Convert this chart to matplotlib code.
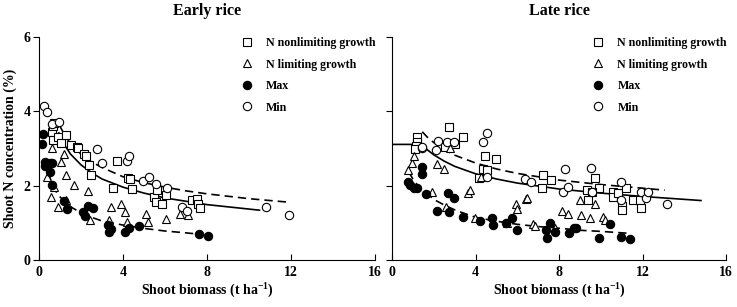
import numpy as np
import matplotlib.pyplot as plt

plt.rcParams['font.family'] = ['Liberation Serif', 'DejaVu Serif']
plt.rcParams['font.weight'] = 'bold'
plt.rcParams['mathtext.fontset'] = 'custom'
plt.rcParams['mathtext.rm'] = 'Liberation Serif:bold'
plt.rcParams['mathtext.bf'] = 'Liberation Serif:bold'

# ---- Early rice ----
e_sq_x = [0.60, 0.65, 0.71, 0.68, 0.92, 1.05, 1.27, 1.51, 1.79, 1.87, 2.16, 2.24, 2.38, 2.46,
          3.54, 3.73, 4.25, 4.33, 4.41, 5.48, 5.56, 5.60, 5.87, 6.03, 7.27, 7.51, 7.59, 7.67]
e_sq_y = [3.45, 3.60, 3.69, 3.23, 3.32, 3.15, 3.36, 3.09, 3.05, 3.02, 2.84, 2.80, 2.55, 2.28,
          1.94, 2.66, 2.20, 2.18, 1.91, 1.70, 1.57, 1.88, 1.51, 1.75, 1.61, 1.65, 1.51, 1.39]
e_tri_x = [0.37, 0.56, 0.60, 0.73, 0.92, 1.06, 1.19, 1.27, 1.29, 1.67, 2.32, 2.43, 3.33, 3.41,
           3.89, 4.10, 4.17, 5.08, 5.17, 6.05, 6.71, 7.08]
e_tri_y = [2.22, 1.70, 3.00, 1.97, 1.43, 2.63, 2.85, 2.28, 1.61, 2.02, 1.85, 1.08, 1.08, 1.42,
           1.51, 1.28, 1.03, 1.25, 1.03, 1.09, 1.25, 1.21]
e_max_x = [0.17, 0.16, 0.29, 0.29, 0.52, 0.63, 0.52, 0.60, 1.20, 1.32, 2.11, 2.21, 2.35, 2.59,
           3.27, 3.33, 3.41, 4.10, 4.29, 4.78, 7.63, 8.06]
e_max_y = [3.39, 3.12, 2.63, 2.53, 2.60, 2.60, 2.37, 2.03, 1.60, 1.37, 1.30, 1.18, 1.46, 1.40,
           0.93, 0.74, 0.84, 0.74, 0.87, 0.92, 0.69, 0.65]
e_min_x = [0.25, 0.40, 0.62, 0.95, 2.78, 3.02, 4.17, 4.30, 4.95, 5.25, 5.55, 6.08, 6.79, 7.06,
           10.80, 11.92]
e_min_y = [4.13, 3.99, 3.65, 3.72, 2.98, 2.60, 2.67, 2.81, 2.12, 2.22, 2.05, 1.95, 1.42, 1.33,
           1.42, 1.21]
# curves
e_crit_x = [0.95, 1.2, 1.5, 2.0, 2.5, 3.0, 4.0, 5.0, 6.0, 7.0, 8.0, 9.0, 10.5]
e_crit_y = [3.42, 3.11, 2.85, 2.56, 2.35, 2.18, 1.96, 1.80, 1.67, 1.58, 1.49, 1.43, 1.34]
e_up_x = [1.0, 1.25, 1.5, 2.0, 2.5, 3.0, 4.0, 5.0, 6.0, 7.0, 8.0, 10.0, 12.0]
e_up_y = [3.60, 3.33, 3.14, 2.85, 2.64, 2.49, 2.24, 2.08, 1.96, 1.86, 1.78, 1.65, 1.55]
e_lo_x = [0.45, 0.6, 0.8, 1.0, 1.3, 1.6, 2.0, 2.5, 3.0, 4.0, 5.0, 6.0, 7.0, 7.7]
e_lo_y = [2.35, 2.08, 1.85, 1.70, 1.52, 1.40, 1.27, 1.15, 1.05, 0.94, 0.85, 0.78, 0.73, 0.69]

# ---- Late rice ----
l_sq_x = [1.18, 1.18, 1.13, 1.10, 2.73, 2.54, 3.01, 3.41, 4.45, 4.98, 4.37, 4.53, 4.16, 7.24,
          7.61, 7.19, 9.74, 9.92, 9.35, 9.39, 9.59, 10.59, 10.59, 10.83, 11.02, 11.02, 11.23,
          11.55, 11.87, 11.95]
l_sq_y = [3.32, 3.18, 3.07, 2.98, 3.58, 3.05, 3.12, 3.32, 2.80, 2.73, 2.46, 2.42, 2.20, 2.28,
          2.15, 1.93, 2.20, 1.94, 1.88, 1.61, 1.84, 1.84, 1.70, 1.79, 1.45, 1.34, 1.93,
          1.61, 1.61, 1.39]
l_tri_x = [0.78, 0.89, 0.97, 1.07, 1.90, 2.14, 2.49, 2.77, 2.58, 3.65, 3.73, 3.97, 4.26, 5.92,
           5.97, 6.41, 6.49, 5.53, 6.73, 6.84, 7.80, 8.15, 8.44, 8.99, 9.04, 9.47, 9.71, 10.11, 10.22]
l_tri_y = [2.42, 2.06, 2.62, 2.80, 1.84, 2.58, 2.46, 3.00, 1.42, 1.79, 1.88, 1.12, 2.24, 1.50,
           1.37, 1.64, 1.68, 1.00, 0.97, 0.91, 0.85, 1.33, 1.25, 1.61, 1.21, 1.12, 1.52, 1.16, 1.08]
l_max_x = [0.78, 0.86, 1.07, 1.18, 1.42, 1.42, 1.61, 2.14, 2.69, 2.98, 2.73, 3.41, 4.21, 4.80,
           4.82, 5.44, 5.73, 6.01, 7.40, 7.43, 7.59, 7.80, 8.47, 8.71, 8.79, 9.92, 10.43, 10.99, 11.39]
l_max_y = [2.09, 2.03, 1.95, 1.93, 2.51, 2.31, 1.77, 1.33, 1.79, 1.68, 1.30, 1.15, 1.06, 1.12,
           0.94, 1.00, 1.14, 0.82, 0.81, 0.58, 0.99, 0.76, 0.73, 0.85, 0.85, 0.58, 0.97, 0.63, 0.56]
l_min_x = [1.42, 1.45, 2.19, 2.10, 2.65, 2.98, 4.34, 4.55, 4.53, 6.36, 6.65, 8.31, 8.20, 8.44,
           9.55, 9.60, 10.99, 10.99, 11.95, 12.19, 12.27, 13.19]
l_min_y = [3.00, 3.05, 3.21, 2.96, 3.18, 3.18, 3.18, 3.41, 2.22, 2.18, 2.11, 2.44, 1.82, 1.97,
           2.48, 1.82, 2.11, 1.61, 1.82, 1.66, 1.84, 1.51]
l_crit_x = [0.0, 1.42, 1.7, 2.0, 2.5, 3.0, 4.0, 5.0, 6.0, 8.0, 10.0, 12.0, 14.8]
l_crit_y = [3.11, 3.11, 2.96, 2.83, 2.66, 2.52, 2.32, 2.18, 2.07, 1.91, 1.80, 1.71, 1.60]
l_up_x = [1.45, 1.7, 2.0, 2.5, 3.0, 4.0, 5.0, 6.0, 8.0, 10.0, 13.06]
l_up_y = [3.45, 3.30, 3.16, 2.97, 2.82, 2.61, 2.45, 2.33, 2.15, 2.03, 1.88]
l_lo_x = [0.8, 1.0, 1.2, 1.5, 1.74, 2.1, 2.5, 3.0, 3.33, 4.0, 4.93, 6.0, 7.0, 8.12, 9.0, 10.0, 11.3]
l_lo_y = [2.37, 2.18, 2.03, 1.85, 1.75, 1.60, 1.48, 1.35, 1.28, 1.15, 1.05, 0.96, 0.90, 0.85, 0.80, 0.77, 0.72]

labels = ['N nonlimiting growth', 'N limiting growth', 'Max', 'Min']

fig = plt.figure(figsize=(7.37, 3.07), dpi=100)
ax1 = fig.add_axes([0.0529, 0.1531, 0.4559, 0.7264])
ax2 = fig.add_axes([0.5319, 0.1531, 0.4532, 0.7264])

panels = [
    (ax1, 'Early rice', e_sq_x, e_sq_y, e_tri_x, e_tri_y, e_max_x, e_max_y, e_min_x, e_min_y,
     e_crit_x, e_crit_y, e_up_x, e_up_y, e_lo_x, e_lo_y),
    (ax2, 'Late rice', l_sq_x, l_sq_y, l_tri_x, l_tri_y, l_max_x, l_max_y, l_min_x, l_min_y,
     l_crit_x, l_crit_y, l_up_x, l_up_y, l_lo_x, l_lo_y),
]

for (ax, title, sx, sy, tx, ty, mx, my, nx, ny, cx, cy, ux, uy, lx, ly) in panels:
    ax.plot(cx, cy, color='black', lw=1.2, zorder=2)
    ax.plot(ux, uy, color='black', lw=1.2, ls=(0, (5, 3)), zorder=2)
    ax.plot(lx, ly, color='black', lw=1.2, ls=(0, (5, 3)), zorder=2)
    h1, = ax.plot(sx, sy, 's', ms=6, mfc='white', mec='black', mew=0.8, zorder=3)
    h2, = ax.plot(tx, ty, '^', ms=6, mfc='white', mec='black', mew=0.8, zorder=3)
    h3, = ax.plot(mx, my, 'o', ms=6, mfc='black', mec='black', mew=0.8, zorder=3)
    h4, = ax.plot(nx, ny, 'o', ms=6, mfc='white', mec='black', mew=0.8, zorder=3)
    ax.legend([h1, h2, h3, h4], labels, loc='upper left', bbox_to_anchor=(0.60, 1.0),
              frameon=False, handlelength=1.0, handletextpad=1.1, borderpad=0,
              borderaxespad=0, labelspacing=0.8, prop={'weight': 'bold', 'size': 8.6})
    ax.set_xlim(0, 16)
    ax.set_ylim(0, 6)
    ax.set_xticks([0, 4, 8, 12, 16])
    ax.set_yticks([0, 2, 4, 6])
    ax.spines['top'].set_visible(False)
    ax.spines['right'].set_visible(False)
    ax.tick_params(axis='x', direction='in', length=4, labelsize=10, pad=4)
    ax.tick_params(axis='y', direction='out', length=4, labelsize=10, pad=2)
    ax.set_title(title, fontsize=11.5, fontweight='bold', pad=16)
    ax.set_xlabel('Shoot biomass (t ha$^{-1}$)', fontsize=10, fontweight='bold', labelpad=1)

ax1.set_ylabel('Shoot N concentration (%)', fontsize=10, fontweight='bold', labelpad=5)
ax2.tick_params(axis='y', labelleft=False)

fig.savefig('out.png', dpi=100)
